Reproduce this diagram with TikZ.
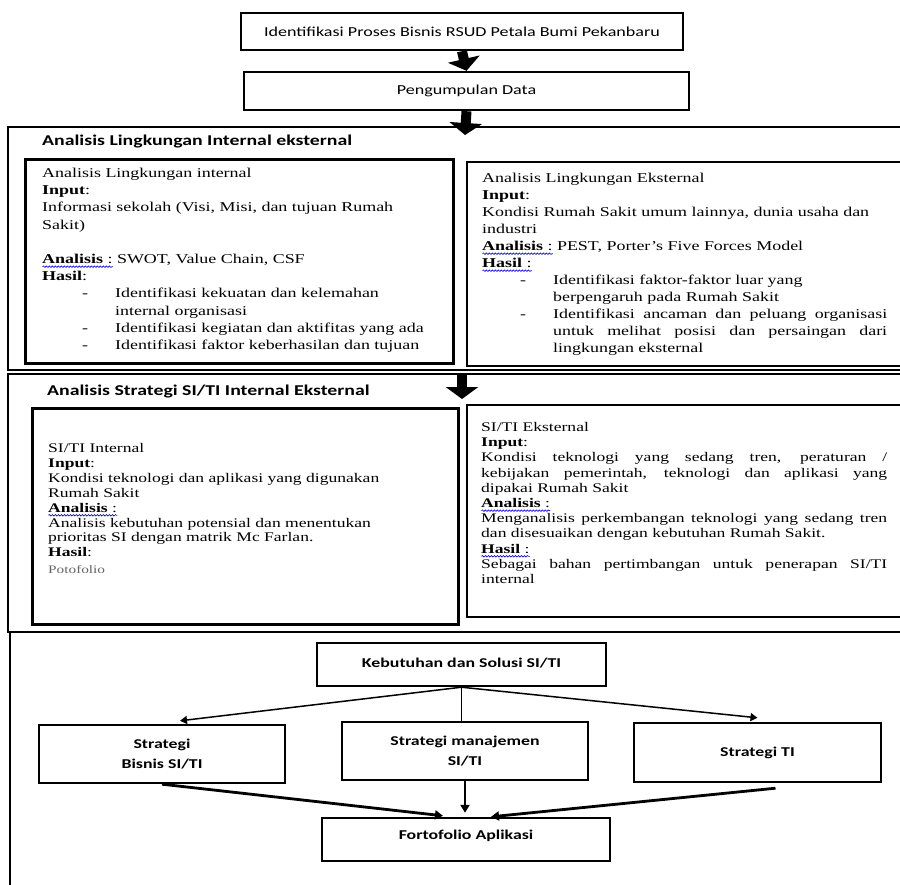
\documentclass[tikz,border=0pt]{standalone}
\usepackage{fontspec}
\usetikzlibrary{arrows.meta,calc,decorations.pathmorphing}
\setmainfont{Liberation Serif}
\newfontfamily\bodyfont[FakeStretch=1.33]{Liberation Serif}
\newfontfamily\calfont[FakeStretch=1.32]{Carlito}
\newsavebox\wvbox
\newcommand\wv[2]{\leavevmode\sbox\wvbox{\textbf{#1}#2}\rlap{\tikz[baseline=0pt,x=1pt,y=1pt]\draw[blue!85!black,line width=0.6pt,decorate,decoration={snake,amplitude=0.8pt,segment length=3pt}] (0,-3.2) -- (\the\wd\wvbox,-3.2);}\usebox\wvbox}
\newcommand\bul[2]{\par\noindent\hangindent=#2\hangafter=1\makebox[#2][l]{\hspace*{#1}-}}
\tikzset{
  sect/.style={line width=2pt},
  thickbox/.style={line width=3pt},
  thinbox/.style={line width=1.4pt},
  flowbox/.style={draw, line width=2.4pt, inner sep=2pt, align=center,
    font=\calfont\bfseries\fontsize{13.5}{20}\selectfont},
  topbox/.style={draw, line width=2.4pt, inner sep=2pt, align=center,
    font=\calfont\fontsize{13.7}{16}\selectfont},
  blockarr/.style={line width=10pt, -{Triangle[width=32pt,length=12pt]}},
  thinarr/.style={line width=1.5pt, -{Triangle[width=8pt,length=7pt]}},
  thickarr/.style={line width=2.8pt, -{Triangle[width=9pt,length=8pt]}},
  head/.style={anchor=base west, inner sep=0, font=\calfont\bfseries\fontsize{15}{18}\selectfont},
  txt/.style={anchor=base west, inner sep=0}
}
\begin{document}
\begin{tikzpicture}[x=1pt,y=-1pt]
\useasboundingbox (0,0) rectangle (900,884);
\fill[white] (0,0) rectangle (900,884);

% top boxes
\node[topbox, minimum width=442pt, minimum height=37pt] (b1) at (462,31.5) {Identifikasi Proses Bisnis RSUD Petala Bumi Pekanbaru};
\node[topbox, minimum width=445pt, minimum height=38pt] (b2) at (466.5,91) {Pengumpulan Data};

% section frames
\draw[sect] (8,127) rectangle (910,370);
\draw[sect] (8,374) rectangle (910,632);
\draw[sect] (10,632) -- (10,890);

% inner boxes
\draw[thickbox] (25,159) rectangle (453,363);
\draw[thinbox] (467,162) rectangle (910,366);
\draw[thickbox] (32,408) rectangle (458,624);
\draw[thinbox] (467,405) rectangle (910,617);

% block arrows
\coordinate (a2) at (465,135);
\coordinate (a3s) at (462,373);
\coordinate (a3e) at (462,399);
\draw[blockarr] (b1.south) -- (b2.north);
\draw[blockarr] (b2.south) -- (a2);
\draw[blockarr] (a3s) -- (a3e);

% headings
\node[head] (h1) at (42,145) {Analisis Lingkungan Internal eksternal};
\node[head] (h2) at (47,395) {Analisis Strategi SI/TI Internal Eksternal};

% section 1 texts
\node[txt] (t1) at (42,177.5) {\begin{minipage}[t]{405pt}\bodyfont\fontsize{13.5}{17.2}\selectfont\raggedright\parindent=0pt
Analisis Lingkungan internal\\
\textbf{Input}:\\
Informasi sekolah (Visi, Misi, dan tujuan Rumah\\
Sakit)\\[17.2pt]
\wv{Analisis}{ :} SWOT, Value Chain, CSF\\
\textbf{Hasil}:
\bul{40pt}{73pt}Identifikasi kekuatan dan kelemahan\newline internal organisasi
\bul{40pt}{73pt}Identifikasi kegiatan dan aktifitas yang ada
\bul{40pt}{73pt}Identifikasi faktor keberhasilan dan tujuan\par
\end{minipage}};

\node[txt] (t2) at (482,182.5) {\begin{minipage}[t]{405pt}\bodyfont\fontsize{13.5}{17}\selectfont\raggedright\parindent=0pt
Analisis Lingkungan Eksternal\\
\textbf{Input}:\\
Kondisi Rumah Sakit umum lainnya, dunia usaha dan\\
industri\\
\wv{Analisis}{ :} PEST, Porter’s Five Forces Model\\
\wv{Hasil}{ :}
\bul{38pt}{71pt}Identifikasi faktor-faktor luar yang\newline berpengaruh pada Rumah Sakit
\bul{38pt}{71pt}\makebox[334pt][s]{Identifikasi ancaman dan peluang organisasi}\newline\makebox[334pt][s]{untuk melihat posisi dan persaingan dari}\newline lingkungan eksternal\par
\end{minipage}};

% section 2 texts
\node[txt] (t3) at (48,452.5) {\begin{minipage}[t]{400pt}\bodyfont\fontsize{13.2}{14.9}\selectfont\raggedright\parindent=0pt
SI/TI Internal\\
\textbf{Input}:\\
Kondisi teknologi dan aplikasi yang digunakan\\
Rumah Sakit\\
\wv{Analisis}{ :}\\
Analisis kebutuhan potensial dan menentukan\\
prioritas SI dengan matrik Mc Farlan.\\
\textbf{Hasil}:\\[1.5pt]
{\color{black!60}\fontsize{11.5}{14}\selectfont Potofolio}\par
\end{minipage}};

\node[txt] (t4) at (481,431.5) {\begin{minipage}[t]{406pt}\bodyfont\fontsize{13.2}{15.2}\selectfont\raggedright\parindent=0pt
SI/TI Eksternal\\
\textbf{Input}:\\
\makebox[406pt][s]{Kondisi teknologi yang sedang tren, peraturan /}\\
\makebox[406pt][s]{kebijakan pemerintah, teknologi dan aplikasi yang}\\
dipakai Rumah Sakit\\
\wv{Analisis}{ :}\\
\makebox[406pt][s]{Menganalisis perkembangan teknologi yang sedang tren}\\
dan disesuaikan dengan kebutuhan Rumah Sakit.\\
\wv{Hasil}{ :}\\
\makebox[406pt][s]{Sebagai bahan pertimbangan untuk penerapan SI/TI}\\
internal\par
\end{minipage}};

% section 3 flow
\node[flowbox, minimum width=289pt, minimum height=43pt, text height=9pt, text depth=4pt] (kb) at (461.5,664.5) {Kebutuhan dan Solusi SI/TI};
\node[flowbox, minimum width=246pt, minimum height=58pt] (sb) at (162,754) {Strategi\\Bisnis SI/TI};
\node[flowbox, minimum width=246pt, minimum height=58pt] (sm) at (465,751) {Strategi manajemen\\SI/TI};
\node[flowbox, minimum width=247pt, minimum height=59pt] (st) at (757.5,752.5) {Strategi TI};
\node[flowbox, minimum width=288pt, minimum height=43pt, text height=9pt, text depth=9pt] (fo) at (466,839.5) {Fortofolio Aplikasi};

\draw[thinarr] (kb.south) -- ($(sb.north)+(18,-3)$);
\draw[thinarr] (kb.south) -- ($(st.north)+(0,-4)$);
\draw[line width=1.6pt] (kb.south) -- (kb.south |- sm.north);
\draw[thickarr] (sb.south) -- ($(fo.north)+(-23,-1)$);
\draw[thickarr] (sm.south) -- ($(sm.south |- fo.north)+(0,-4)$);
\draw[thickarr] ($(st.south)+(18,5)$) -- ($(fo.north)+(25,0)$);
\end{tikzpicture}
\end{document}
